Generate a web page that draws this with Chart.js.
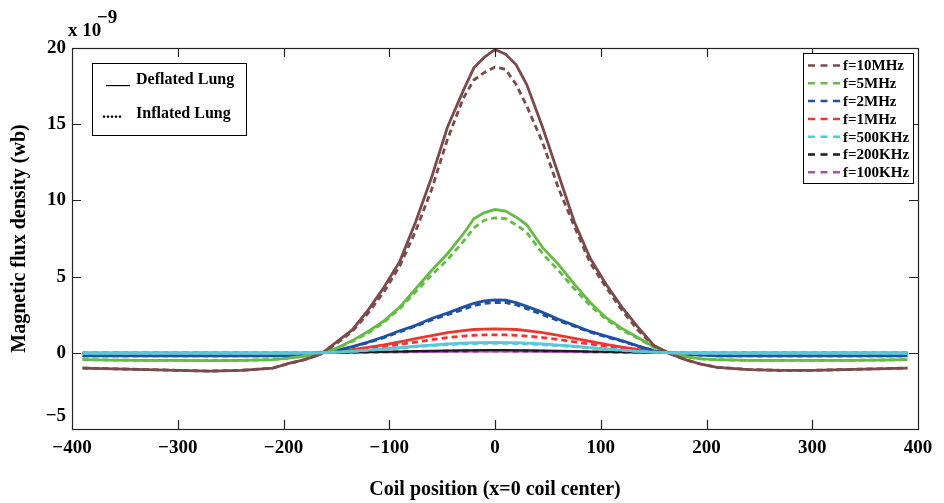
<!DOCTYPE html>
<html>
<head>
<meta charset="utf-8">
<script src="https://cdn.jsdelivr.net/npm/chart.js@4.4.1/dist/chart.umd.min.js"></script>
<style>
    body { margin: 0; background: #fff; }
    #wrap { width: 944px; height: 503px; }
</style>
</head>
<body>
<div id="wrap"><canvas id="flux" width="944" height="503"></canvas></div>
<script>
// coil position (x axis) shared by every curve
const coilX = [-390, -360, -330, -300, -270, -240, -210, -195, -180, -165, -150, -135, -120, -105, -90,
    -75, -60, -45, -30, -20, -10, 0, 10, 20, 30, 45, 60, 75, 90,
    105, 120, 135, 150, 165, 180, 195, 210, 240, 270, 300, 330, 360, 390];

const freqLabels = ['f=10MHz', 'f=5MHz', 'f=2MHz', 'f=1MHz', 'f=500KHz', 'f=200KHz', 'f=100KHz'];
const xTicks = [-400, -300, -200, -100, 0, 100, 200, 300, 400];
const yTicks = [-5, 0, 5, 10, 15, 20];

// values in units of 1e-9 wb, solid = deflated lung, dashed = inflated lung
const deflated10M = [-1.0, -1.05, -1.1, -1.15, -1.2, -1.15, -1.0, -0.7, -0.45, -0.1, 0.7, 1.5, 2.8, 4.3, 6.0,
    8.6, 11.5, 14.8, 17.2, 18.7, 19.4, 19.9, 19.6, 18.9, 17.6, 14.8, 11.7, 8.6, 6.2,
    4.5, 3.0, 1.7, 0.5, -0.05, -0.45, -0.75, -0.95, -1.1, -1.15, -1.15, -1.1, -1.05, -1.0];
const inflated10M = [-1.0, -1.05, -1.1, -1.15, -1.2, -1.15, -1.0, -0.7, -0.45, -0.1, 0.6, 1.4, 2.6, 4.0, 5.7,
    8.0, 10.7, 14.0, 16.7, 17.9, 18.4, 18.75, 18.6, 17.6, 16.2, 13.8, 10.8, 8.3, 5.9,
    4.3, 2.8, 1.5, 0.45, -0.05, -0.45, -0.75, -0.95, -1.1, -1.15, -1.15, -1.1, -1.05, -1.0];

const deflated5M = [-0.45, -0.48, -0.5, -0.5, -0.52, -0.5, -0.45, -0.35, -0.22, -0.02, 0.3, 0.8, 1.4, 2.1, 3.0,
    4.2, 5.4, 6.5, 7.8, 8.8, 9.2, 9.4, 9.3, 8.9, 8.4, 6.9, 5.8, 4.5, 3.3,
    2.3, 1.6, 1.0, 0.4, 0.0, -0.25, -0.4, -0.45, -0.5, -0.5, -0.5, -0.5, -0.48, -0.45];
const inflated5M = [-0.45, -0.48, -0.5, -0.5, -0.52, -0.5, -0.45, -0.35, -0.22, -0.02, 0.28, 0.75, 1.3, 2.0, 2.9,
    4.0, 5.1, 6.1, 7.3, 8.2, 8.7, 8.85, 8.8, 8.4, 7.9, 6.5, 5.4, 4.2, 3.1,
    2.2, 1.5, 0.95, 0.38, 0.0, -0.25, -0.4, -0.45, -0.5, -0.5, -0.5, -0.5, -0.48, -0.45];

const deflated2M = [-0.2, -0.2, -0.2, -0.2, -0.2, -0.2, -0.2, -0.18, -0.12, 0.0, 0.15, 0.4, 0.7, 1.05, 1.45,
    1.8, 2.25, 2.6, 3.0, 3.25, 3.4, 3.47, 3.45, 3.3, 3.05, 2.65, 2.2, 1.8, 1.4,
    1.1, 0.8, 0.45, 0.15, 0.0, -0.1, -0.15, -0.2, -0.2, -0.2, -0.2, -0.2, -0.2, -0.2];
const inflated2M = [-0.2, -0.2, -0.2, -0.2, -0.2, -0.2, -0.2, -0.18, -0.12, 0.0, 0.14, 0.38, 0.67, 1.0, 1.38,
    1.75, 2.15, 2.5, 2.85, 3.1, 3.25, 3.3, 3.3, 3.15, 2.9, 2.5, 2.1, 1.75, 1.35,
    1.05, 0.76, 0.43, 0.14, 0.0, -0.1, -0.15, -0.2, -0.2, -0.2, -0.2, -0.2, -0.2, -0.2];

const deflated1M = [-0.03, -0.03, -0.03, -0.03, -0.03, -0.03, -0.03, -0.03, -0.02, 0.0, 0.08, 0.2, 0.35, 0.52, 0.72,
    0.93, 1.13, 1.32, 1.46, 1.53, 1.56, 1.57, 1.56, 1.53, 1.46, 1.33, 1.15, 0.95, 0.75,
    0.55, 0.38, 0.22, 0.09, 0.0, -0.02, -0.03, -0.03, -0.03, -0.03, -0.03, -0.03, -0.03, -0.03];
const inflated1M = [-0.03, -0.03, -0.03, -0.03, -0.03, -0.03, -0.03, -0.03, -0.02, 0.0, 0.06, 0.15, 0.27, 0.4, 0.55,
    0.7, 0.86, 1.0, 1.1, 1.15, 1.17, 1.18, 1.17, 1.15, 1.1, 1.0, 0.87, 0.72, 0.57,
    0.42, 0.29, 0.17, 0.07, 0.0, -0.02, -0.03, -0.03, -0.03, -0.03, -0.03, -0.03, -0.03, -0.03];

const deflated500k = [-0.03, -0.03, -0.03, -0.03, -0.03, -0.03, -0.03, -0.03, -0.02, 0.0, 0.04, 0.1, 0.17, 0.25, 0.34,
    0.43, 0.51, 0.58, 0.63, 0.66, 0.67, 0.68, 0.67, 0.66, 0.63, 0.58, 0.51, 0.43, 0.34,
    0.25, 0.17, 0.1, 0.04, 0.0, -0.02, -0.03, -0.03, -0.03, -0.03, -0.03, -0.03, -0.03, -0.03];
const inflated500k = [-0.03, -0.03, -0.03, -0.03, -0.03, -0.03, -0.03, -0.03, -0.02, 0.0, 0.04, 0.09, 0.16, 0.23, 0.31,
    0.4, 0.47, 0.53, 0.58, 0.61, 0.62, 0.63, 0.62, 0.61, 0.58, 0.53, 0.47, 0.4, 0.31,
    0.23, 0.16, 0.09, 0.04, 0.0, -0.02, -0.03, -0.03, -0.03, -0.03, -0.03, -0.03, -0.03, -0.03];

const deflated200k = [-0.01, -0.01, -0.01, -0.01, -0.01, -0.01, -0.01, -0.01, -0.01, 0.0, 0.01, 0.03, 0.05, 0.07, 0.09,
    0.11, 0.13, 0.15, 0.16, 0.17, 0.18, 0.18, 0.18, 0.17, 0.16, 0.15, 0.13, 0.11, 0.09,
    0.07, 0.05, 0.03, 0.01, 0.0, -0.01, -0.01, -0.01, -0.01, -0.01, -0.01, -0.01, -0.01, -0.01];
const inflated200k = [-0.01, -0.01, -0.01, -0.01, -0.01, -0.01, -0.01, -0.01, -0.01, 0.0, 0.01, 0.03, 0.04, 0.06, 0.08,
    0.1, 0.12, 0.13, 0.14, 0.15, 0.16, 0.16, 0.16, 0.15, 0.14, 0.13, 0.12, 0.1, 0.08,
    0.06, 0.04, 0.03, 0.01, 0.0, -0.01, -0.01, -0.01, -0.01, -0.01, -0.01, -0.01, -0.01, -0.01];

const deflated100k = [0.0, 0.0, 0.0, 0.0, 0.0, 0.0, 0.0, 0.0, 0.0, 0.0, 0.01, 0.01, 0.02, 0.03, 0.04,
    0.05, 0.06, 0.07, 0.08, 0.08, 0.09, 0.09, 0.09, 0.08, 0.08, 0.07, 0.06, 0.05, 0.04,
    0.03, 0.02, 0.01, 0.01, 0.0, 0.0, 0.0, 0.0, 0.0, 0.0, 0.0, 0.0, 0.0, 0.0];
const inflated100k = [0.0, 0.0, 0.0, 0.0, 0.0, 0.0, 0.0, 0.0, 0.0, 0.0, 0.01, 0.01, 0.02, 0.03, 0.03,
    0.04, 0.05, 0.06, 0.07, 0.07, 0.08, 0.08, 0.08, 0.07, 0.07, 0.06, 0.05, 0.04, 0.03,
    0.03, 0.02, 0.01, 0.01, 0.0, 0.0, 0.0, 0.0, 0.0, 0.0, 0.0, 0.0, 0.0, 0.0];

const deflatedSeries = [deflated10M, deflated5M, deflated2M, deflated1M, deflated500k, deflated200k, deflated100k];
const inflatedSeries = [inflated10M, inflated5M, inflated2M, inflated1M, inflated500k, inflated200k, inflated100k];

const colors = ['#7b4a4a', '#66bb47', '#2050a2', '#ee3530', '#5ac6d8', '#1a1a1a', '#a552ad'];
const widths = [2.8, 2.8, 2.8, 2.8, 2.8, 2, 2];
// draw order: cyan on top of the near-zero flats, like the original
const drawOrder = [1, 1, 1, 2, 0, 2, 2];
const serif = "'Liberation Serif', 'Times New Roman', serif";
const minus = v => (v < 0 ? '\u2212' + Math.abs(v) : String(v));

const toPoints = arr => arr.map((v, i) => ({ x: coilX[i], y: v }));

const datasets = [];
freqLabels.forEach((label, i) => {
    datasets.push({
        label: label + ' deflated',
        data: toPoints(deflatedSeries[i]),
        borderColor: colors[i],
        borderWidth: widths[i],
        pointRadius: 0,
        tension: 0,
        order: drawOrder[i]
    });
    datasets.push({
        label: label,
        data: toPoints(inflatedSeries[i]),
        borderColor: colors[i],
        borderWidth: widths[i],
        borderDash: [6, 4],
        pointRadius: 0,
        tension: 0,
        order: drawOrder[i],
        inflated: true
    });
});

// MATLAB style box, inward ticks, legends and exponent
const framePlugin = {
    id: 'frame',
    afterDraw(chart) {
        const { ctx, chartArea: a, scales: { x, y } } = chart;
        ctx.save();
        ctx.strokeStyle = '#222';
        ctx.lineWidth = 1.2;
        ctx.setLineDash([]);
        ctx.strokeRect(a.left + 0.5, a.top + 0.5, a.right - a.left, a.bottom - a.top);

        ctx.beginPath();
        xTicks.slice(1, -1).forEach(v => {
            const px = Math.round(x.getPixelForValue(v)) + 0.5;
            ctx.moveTo(px, a.bottom); ctx.lineTo(px, a.bottom - 9);
            ctx.moveTo(px, a.top); ctx.lineTo(px, a.top + 9);
        });
        yTicks.slice(1, -1).forEach(v => {
            const py = Math.round(y.getPixelForValue(v)) + 0.5;
            ctx.moveTo(a.left, py); ctx.lineTo(a.left + 9, py);
            ctx.moveTo(a.right, py); ctx.lineTo(a.right - 9, py);
        });
        ctx.stroke();

        ctx.fillStyle = '#000';
        ctx.font = 'bold 19px ' + serif;
        ctx.textBaseline = 'middle';
        ctx.textAlign = 'right';
        ctx.fillText(minus(-5), a.left - 6, y.getPixelForValue(-5) - 13);

        ctx.textAlign = 'left';
        ctx.textBaseline = 'alphabetic';
        ctx.fillText('x 10', 68, 36);
        ctx.fillText('\u22129', 97, 23);

        // lung state legend
        ctx.lineWidth = 1;
        ctx.fillStyle = '#fff';
        ctx.fillRect(92, 63, 154, 72);
        ctx.strokeStyle = '#000';
        ctx.strokeRect(92.5, 63.5, 154, 72);
        ctx.fillStyle = '#000';
        ctx.font = 'bold 16px ' + serif;
        ctx.fillText('___', 106, 84);
        ctx.fillText('Deflated Lung', 136, 84);
        ctx.fillText('.....', 102, 118);
        ctx.fillText('Inflated Lung', 136, 118);

        // frequency legend
        ctx.fillStyle = '#fff';
        ctx.fillRect(803, 53, 110, 130);
        ctx.strokeStyle = '#000';
        ctx.strokeRect(803.5, 53.5, 110, 130);
        ctx.font = 'bold 15px ' + serif;
        ctx.textBaseline = 'middle';
        chart.data.datasets.filter(d => d.inflated).forEach((d, i) => {
            const ly = 65.5 + i * 17.8;
            ctx.strokeStyle = d.borderColor;
            ctx.lineWidth = 2.5;
            ctx.setLineDash([7, 5.5]);
            ctx.beginPath();
            ctx.moveTo(808, ly); ctx.lineTo(841, ly);
            ctx.stroke();
            ctx.fillStyle = '#000';
            ctx.fillText(d.label, 843, ly + 1);
        });
        ctx.restore();
    }
};

new Chart(document.getElementById('flux').getContext('2d'), {
    type: 'line',
    data: { datasets },
    options: {
        responsive: false,
        animation: false,
        layout: { padding: { left: 0, right: 26, top: 48, bottom: 0 } },
        plugins: {
            legend: { display: false },
            tooltip: { enabled: false }
        },
        scales: {
            x: {
                type: 'linear',
                min: -400,
                max: 400,
                afterFit: scale => { scale.height = 74; },
                afterBuildTicks: scale => { scale.ticks = xTicks.map(v => ({ value: v })); },
                grid: { display: true, drawOnChartArea: false, drawTicks: false },
                border: { display: false },
                ticks: {
                    padding: 8,
                    color: '#000',
                    font: { family: serif, size: 19, weight: 'bold' },
                    callback: v => minus(v)
                },
                title: {
                    display: true,
                    text: 'Coil position (x=0 coil center)',
                    color: '#000',
                    font: { family: serif, size: 20, weight: 'bold' },
                    padding: { top: 0, bottom: 1 }
                }
            },
            y: {
                min: -5,
                max: 20,
                afterFit: scale => { scale.width = 72; },
                afterBuildTicks: scale => { scale.ticks = yTicks.map(v => ({ value: v })); },
                grid: { display: true, drawOnChartArea: false, drawTicks: false },
                border: { display: false },
                ticks: {
                    padding: 6,
                    color: '#000',
                    font: { family: serif, size: 19, weight: 'bold' },
                    callback: v => (v === -5 ? '' : minus(v))
                },
                title: {
                    display: true,
                    text: 'Magnetic flux density (wb)',
                    color: '#000',
                    font: { family: serif, size: 20, weight: 'bold' },
                    padding: { top: 8, bottom: 0 }
                }
            }
        }
    },
    plugins: [framePlugin]
});
</script>
</body>
</html>
